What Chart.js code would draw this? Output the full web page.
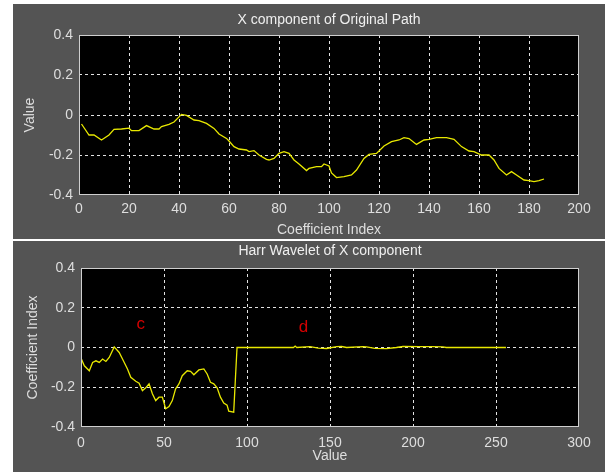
<!DOCTYPE html>
<html>
<head>
<meta charset="utf-8">
<script src="https://cdn.jsdelivr.net/npm/chart.js@4/dist/chart.umd.min.js"></script>
<style>
  body { margin: 0; background: #fff; width: 612px; height: 472px; position: relative; overflow: hidden; }
  .panel { position: absolute; left: 13px; width: 592px; background: #545454; }
  #top { top: 4px; height: 235px; }
  #bottom { top: 241px; height: 231px; }
</style>
</head>
<body>
<div class="panel" id="top"><canvas id="pathChart"></canvas></div>
<div class="panel" id="bottom"><canvas id="waveChart"></canvas></div>
<script>
// X component of the original path, sampled along the coefficient index
const pathIdx = [1, 4, 6, 9, 12, 14, 17, 20, 21, 24, 27, 30, 32, 33, 36, 38, 41, 43, 46, 48,
  51, 54, 56, 59, 60, 62, 64, 67, 68, 70, 72, 75, 76, 78, 80, 82, 84, 86, 88, 91,
  92, 95, 97, 98, 100, 101, 103, 106, 109, 111, 114, 116, 119, 122, 125, 128, 130, 132, 135, 138,
  140, 143, 147, 150, 153, 156, 158, 161, 164, 166, 168, 171, 173, 175, 178, 180, 182, 184, 186];
const pathVal = [-0.045, -0.1, -0.1, -0.125, -0.1, -0.072, -0.07, -0.066, -0.078, -0.078, -0.053, -0.07, -0.07, -0.058, -0.047, -0.035, 0.003, -0.002, -0.025, -0.028,
  -0.042, -0.067, -0.095, -0.117, -0.13, -0.158, -0.17, -0.175, -0.183, -0.178, -0.2, -0.222, -0.225, -0.217, -0.192, -0.183, -0.192, -0.225, -0.245, -0.278,
  -0.267, -0.258, -0.258, -0.245, -0.255, -0.29, -0.313, -0.308, -0.3, -0.275, -0.217, -0.197, -0.192, -0.155, -0.133, -0.125, -0.113, -0.118, -0.147, -0.125,
  -0.122, -0.113, -0.113, -0.122, -0.158, -0.18, -0.183, -0.2, -0.2, -0.225, -0.267, -0.3, -0.283, -0.3, -0.325, -0.328, -0.333, -0.328, -0.32];

// Haar wavelet coefficients of the X component
const waveIdx = [0, 2, 5, 7, 9, 11, 13, 15, 17, 20, 23, 25, 28, 30, 33, 35, 37, 39, 41, 43,
  45, 47, 49, 51, 53, 55, 57, 59, 61, 64, 66, 68, 71, 74, 76, 78, 80, 82, 84, 86,
  88, 89, 92, 93, 94, 128, 129, 130, 138, 143, 148, 154, 157, 160, 170, 172, 177, 184, 190, 194,
  204, 212, 218, 220, 256];
const waveVal = [-0.053, -0.092, -0.117, -0.075, -0.067, -0.075, -0.058, -0.07, -0.05, 0.003, -0.025, -0.058, -0.108, -0.15, -0.17, -0.18, -0.217, -0.203, -0.183, -0.233,
  -0.267, -0.25, -0.25, -0.308, -0.297, -0.267, -0.208, -0.183, -0.142, -0.117, -0.12, -0.137, -0.113, -0.108, -0.133, -0.175, -0.183, -0.203, -0.25, -0.28,
  -0.29, -0.32, -0.325, -0.16, 0, 0, 0.007, 0, 0.004, -0.003, -0.005, 0.004, 0.005, 0, 0.004, 0.003, -0.004, -0.006, 0, 0.005,
  0.004, 0.004, 0.003, 0, 0];

// region markers in the wavelet plot
const markText = ['c', 'd'];
const markX = [36, 134];
const markY = [0.115, 0.1];

const yTicks = [-0.4, -0.2, 0, 0.2, 0.4];

const FONT = '"Liberation Sans", Arial, sans-serif';
const TEXT = '#dedede';

// black plot area, solid frame and a title over the axes
const framePlugin = {
  id: 'frame',
  beforeDraw(chart) {
    const a = chart.chartArea, ctx = chart.ctx;
    ctx.save();
    ctx.fillStyle = '#000';
    ctx.fillRect(a.left, a.top, a.right - a.left, a.bottom - a.top);
    ctx.restore();
  },
  afterDraw(chart, args, opts) {
    const a = chart.chartArea, ctx = chart.ctx;
    ctx.save();
    ctx.strokeStyle = '#cfcfcf';
    ctx.lineWidth = 1;
    ctx.strokeRect(a.left + 0.5, a.top + 0.5, a.right - a.left - 1, a.bottom - a.top - 1);
    ctx.fillStyle = '#efefef';
    ctx.font = '14px ' + FONT;
    ctx.textAlign = 'center';
    ctx.textBaseline = 'middle';
    ctx.fillText(opts.text, (a.left + a.right) / 2, opts.y);
    if (opts.marks) {
      ctx.fillStyle = '#d40000';
      ctx.font = '17px ' + FONT;
      opts.marks.text.forEach((t, i) => {
        ctx.fillText(t, chart.scales.x.getPixelForValue(opts.marks.x[i]),
          chart.scales.y.getPixelForValue(opts.marks.y[i]));
      });
    }
    ctx.restore();
  }
};

function gridColor(ctx) {
  const n = ctx.scale.ticks.length;
  return (ctx.index === 0 || ctx.index === n - 1) ? 'rgba(0,0,0,0)' : '#e2e2e2';
}

function makeChart(id, xs, ys, cfg) {
  const points = xs.map((x, i) => ({ x: x, y: ys[i] }));
  return new Chart(document.getElementById(id), {
    type: 'line',
    data: {
      datasets: [{
        data: points,
        borderColor: '#e8e800',
        borderWidth: 1.3,
        pointRadius: 0,
        tension: 0
      }]
    },
    options: {
      responsive: true,
      maintainAspectRatio: false,
      animation: false,
      layout: { padding: { top: cfg.top, right: 26, left: 0, bottom: 0 } },
      plugins: {
        legend: { display: false },
        tooltip: { enabled: false },
        frame: cfg.frame
      },
      scales: {
        x: {
          type: 'linear',
          min: 0,
          max: cfg.xMax,
          ticks: { stepSize: cfg.xStep, color: TEXT, font: { family: FONT, size: 14 }, padding: cfg.xTickPad, maxRotation: 0 },
          grid: { color: gridColor, drawTicks: false },
          border: { display: false, dash: [3, 3] },
          title: { display: true, text: cfg.xTitle, color: TEXT, font: { family: FONT, size: 14 }, padding: { top: 0, bottom: cfg.xTitlePad } },
          afterFit(scale) { scale.height = cfg.xHeight; }
        },
        y: {
          min: -0.4,
          max: 0.4,
          afterBuildTicks(scale) { scale.ticks = yTicks.map(v => ({ value: v })); },
          ticks: {
            color: TEXT, font: { family: FONT, size: 14 }, padding: 6,
            callback: v => (Math.abs(v) < 1e-9 ? '0' : (Math.round(v * 10) / 10).toFixed(1))
          },
          grid: { color: gridColor, drawTicks: false },
          border: { display: false, dash: [3, 3] },
          title: { display: true, text: cfg.yTitle, color: TEXT, font: { family: FONT, size: 14 }, padding: { top: cfg.yTitlePad, bottom: 0 } },
          afterFit(scale) { scale.width = cfg.yWidth; }
        }
      }
    },
    plugins: [framePlugin]
  });
}

makeChart('pathChart', pathIdx, pathVal, {
  top: 31, xMax: 200, xStep: 20, xHeight: 44, yWidth: 66, xTickPad: 6,
  xTitle: 'Coefficient Index', xTitlePad: 0,
  yTitle: 'Value', yTitlePad: 9,
  frame: { text: 'X component of Original Path', y: 16 }
});

makeChart('waveChart', waveIdx, waveVal, {
  top: 27, xMax: 300, xStep: 50, xHeight: 45, yWidth: 68, xTickPad: 8,
  xTitle: 'Value', xTitlePad: 7,
  yTitle: 'Coefficient Index', yTitlePad: 12,
  frame: { text: 'Harr Wavelet of X component', y: 10, marks: { text: markText, x: markX, y: markY } }
});
</script>
</body>
</html>
